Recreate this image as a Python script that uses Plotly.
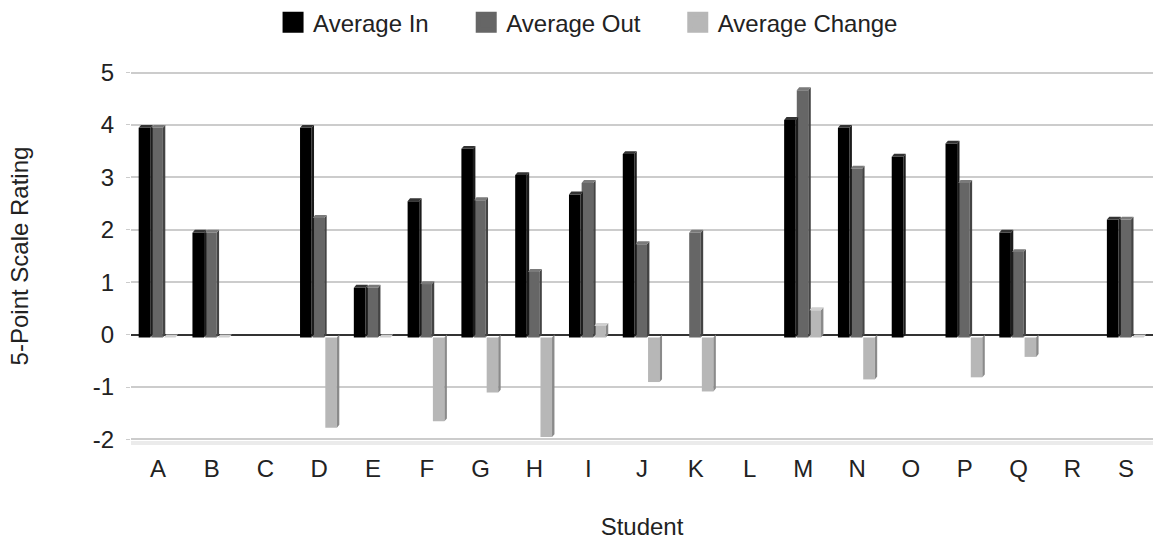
import plotly.graph_objects as go

students = ["A","B","C","D","E","F","G","H","I","J","K","L","M","N","O","P","Q","R","S"]
avg_in = [4.0, 2.0, None, 4.0, 0.95, 2.6, 3.6, 3.1, 2.73, 3.5, None, None, 4.15, 4.0, 3.45, 3.7, 2.0, None, 2.25]
avg_out = [4.0, 2.0, None, 2.28, 0.95, 1.02, 2.62, 1.25, 2.95, 1.78, 2.0, None, 4.72, 3.22, None, 2.95, 1.63, None, 2.25]
avg_change = [0.0, 0.0, None, -1.72, 0.0, -1.6, -1.05, -1.9, 0.22, -0.85, -1.03, None, 0.52, -0.8, None, -0.76, -0.37, None, 0.0]

y_ticks = [-2, -1, 0, 1, 2, 3, 4, 5]
y_tick_labels = ["-2", "-1", "0", "1", "2", "3", "4", "5"]

series = [
    ("Average In", avg_in, "#000000", "#1c1c1c", "#333333"),
    ("Average Out", avg_out, "#666666", "#444444", "#7a7a7a"),
    ("Average Change", avg_change, "#b7b7b7", "#8a8a8a", "#d0d0d0"),
]

x = list(range(len(students)))
offsets = [-0.25, -0.015, 0.22]
width = 0.215
dx = 0.045   # depth in x units
dy = 0.055   # depth in y units

font = "Liberation Sans, Arial, sans-serif"
fs = 24
txt = "#222222"

legend_names = ["legend", "legend2", "legend3"]
legend_x = [0.139, 0.328, 0.535]

fig = go.Figure()
for (name, vals, front, side, top), off, lg in zip(series, offsets, legend_names):
    xs = [xi + off for xi in x]
    fig.add_trace(go.Bar(
        x=xs, y=vals, base=[-dy] * len(vals), width=width, name=name,
        marker=dict(color=front, line=dict(width=0)), showlegend=False,
        hovertemplate="%{y}<extra>" + name + "</extra>",
    ))
    px, py, tx, ty = [], [], [], []
    for xc, v in zip(xs, vals):
        if v is None:
            continue
        xl, xr = xc - width / 2, xc + width / 2
        yt = v - dy
        px += [xr, xr, xr + dx, xr + dx, xr, None]
        py += [-dy, yt, yt + dy, 0, -dy, None]
        if v >= 0:
            tx += [xl, xr, xr + dx, xl + dx, xl, None]
            ty += [yt, yt, yt + dy, yt + dy, yt, None]
    fig.add_trace(go.Scatter(x=px, y=py, mode="lines", fill="toself", fillcolor=side,
                             line=dict(width=0, color=side), showlegend=False, hoverinfo="skip"))
    if tx:
        fig.add_trace(go.Scatter(x=tx, y=ty, mode="lines", fill="toself", fillcolor=top,
                                 line=dict(width=0, color=top), showlegend=False, hoverinfo="skip"))
    # legend entry
    fig.add_trace(go.Scatter(x=[None], y=[None], mode="markers", name=name, legend=lg,
                             marker=dict(symbol="square", size=16, color=front,
                                         line=dict(width=5, color=front))))

legend_common = dict(orientation="h", y=1.1305, yanchor="middle", xanchor="left",
                     font=dict(size=fs, color=txt), bgcolor="rgba(0,0,0,0)")

fig.update_layout(
    width=1153, height=540,
    margin=dict(l=131, r=0, t=71, b=99),
    plot_bgcolor="white", paper_bgcolor="white",
    barmode="overlay",
    font=dict(family=font, size=fs, color=txt),
    legend=dict(x=legend_x[0], **legend_common),
    legend2=dict(x=legend_x[1], **legend_common),
    legend3=dict(x=legend_x[2], **legend_common),
    xaxis=dict(
        range=[-0.5, len(students) - 0.5], tickmode="array", tickvals=x, ticktext=students,
        showgrid=False, zeroline=False, ticks="", tickfont=dict(size=fs, color=txt),
        ticklabelstandoff=3,
        title=dict(text="Student", font=dict(size=fs, color=txt), standoff=58),
        showline=True, linecolor="#ebebeb", linewidth=4, automargin=False,
    ),
    yaxis=dict(
        range=[-2.03, 5.03], tickmode="array", tickvals=y_ticks, ticktext=y_tick_labels,
        showgrid=True, gridcolor="#cccccc", gridwidth=1.5,
        zeroline=True, zerolinecolor="#333333", zerolinewidth=1.5,
        ticks="outside", ticklen=4, tickcolor="#cccccc", ticklabelstandoff=7,
        tickfont=dict(size=fs, color=txt), automargin=False,
        title=dict(text="5-Point Scale Rating", font=dict(size=fs, color=txt), standoff=57),
    ),
)
fig.write_html("out.html", config={"displayModeBar": False},
               post_script="document.body.style.margin='0';")
